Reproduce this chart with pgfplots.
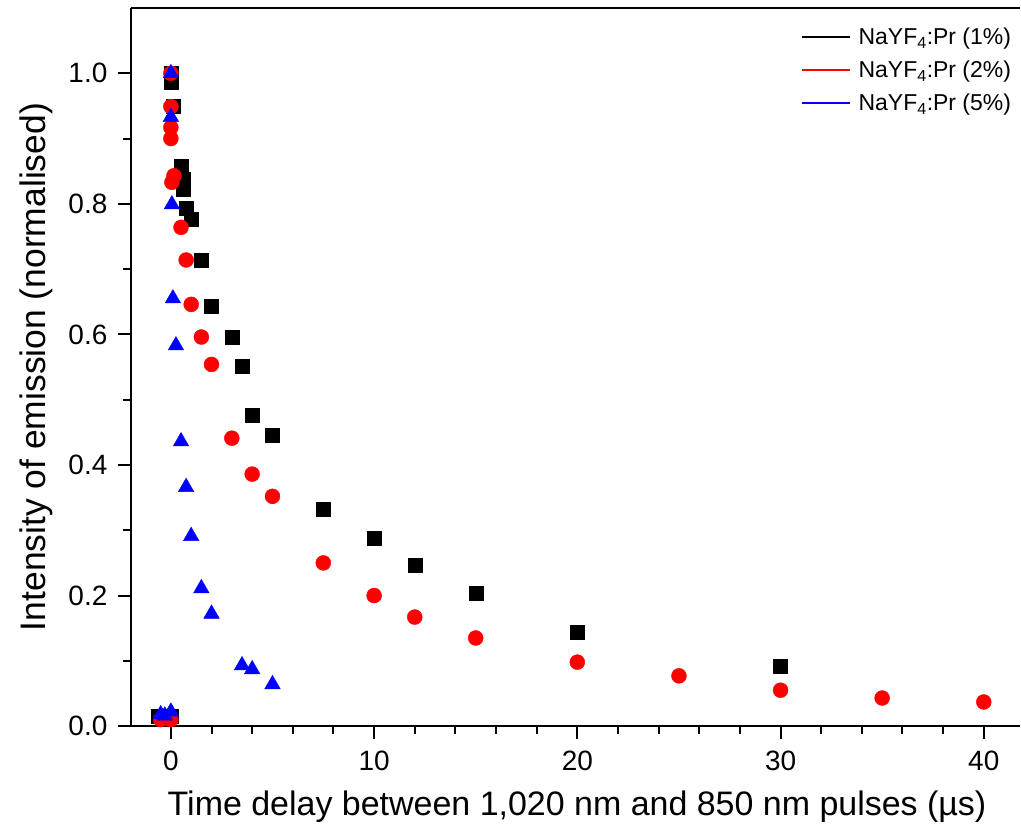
\documentclass[border=0pt]{standalone}
\usepackage{fontspec}
\setmainfont{Liberation Sans}
\usepackage{pgfplots}
\pgfplotsset{compat=1.18}

\begin{document}
\begin{tikzpicture}
\begin{axis}[
    scale only axis,
    width=890pt, height=719pt,
    xmin=-1.97, xmax=41.77,
    ymin=0, ymax=1.1,
    axis lines*=left,
    axis line style={line width=2.5pt},
    xtick={0,10,20,30,40},
    minor x tick num=4,
    ytick={0,0.2,0.4,0.6,0.8,1.0},
    minor y tick num=1,
    tick align=outside,
    major tick length=13pt,
    minor tick length=8pt,
    every tick/.style={black, line width=2pt},
    /pgf/number format/assume math mode=true,
    ticklabel style={font=\fontsize{28}{32}\selectfont},
    xticklabel style={yshift=-8pt},
    yticklabel style={xshift=-7pt, /pgf/number format/.cd, fixed, fixed zerofill, precision=1},
    xlabel={Time delay between 1,020 nm and 850 nm pulses (µs)},
    ylabel={Intensity of emission (normalised)},
    every axis x label/.style={at={(axis description cs:0.502,-0.1127)}, anchor=center,
        font=\fontsize{34}{38}\selectfont},
    every axis y label/.style={at={(axis description cs:-0.1067,0.5)}, anchor=center, rotate=90,
        font=\fontsize{35.5}{40}\selectfont},
    legend image code/.code={\draw[#1] (-4pt,0pt) -- (44pt,0pt); \path (50pt,0pt);},
    legend style={draw=none, fill=none, at={(axis description cs:0.996,0.978)}, anchor=north east,
        font=\fontsize{23}{27}\selectfont, row sep=11pt},
    legend cell align=left,
]
\addlegendimage{black, line width=2pt}
\addlegendentry{NaYF\textsubscript{4}:Pr (1\%)}
\addlegendimage{red, line width=2pt}
\addlegendentry{NaYF\textsubscript{4}:Pr (2\%)}
\addlegendimage{blue, line width=2pt}
\addlegendentry{NaYF\textsubscript{4}:Pr (5\%)}

% 1%
\addplot[forget plot, only marks, mark=square*, mark size=7pt, black] coordinates {
(-0.6,0.015) (0,0.015)
(0,1.0) (0,0.986) (0.1,0.949) (0.5,0.857) (0.6,0.838) (0.6,0.822)
(0.75,0.793) (1,0.777) (1.5,0.714) (2,0.643) (3,0.596) (3.5,0.551)
(4,0.476) (5,0.446) (7.5,0.332) (10,0.288) (12,0.247) (15,0.204)
(20,0.144) (30,0.092)
};
% 2%
\addplot[forget plot, only marks, mark=*, mark size=7.5pt, red] coordinates {
(-0.5,0.01) (0,0.01)
(0,1.0) (0,0.949) (0,0.917) (0,0.900) (0.15,0.843) (0.05,0.833)
(0.5,0.764) (0.75,0.714) (1,0.646) (1.5,0.596) (2,0.554) (3,0.441)
(4,0.386) (5,0.352) (7.5,0.25) (10,0.2) (12,0.167) (15,0.135)
(20,0.098) (25,0.077) (30,0.055) (35,0.043) (40,0.037)
};
% 5%
\addplot[forget plot, only marks, mark=triangle*, mark size=9pt, blue] coordinates {
(-0.5,0.018) (-0.3,0.016) (0,0.022)
(0,1.0) (0,0.933) (0.05,0.799) (0.1,0.655) (0.25,0.583) (0.5,0.436)
(0.75,0.366) (1,0.291) (1.5,0.211) (2,0.172) (3.5,0.093) (4,0.087)
(5,0.064)
};
\draw[line width=2.5pt] ([xshift=-8pt]rel axis cs:0,1) -- (rel axis cs:1,1);
\end{axis}
% page margins as in the reference
\path ([xshift=-131pt,yshift=-103pt]current axis.south west) ([yshift=8pt]current axis.north east);
\end{tikzpicture}
\end{document}
